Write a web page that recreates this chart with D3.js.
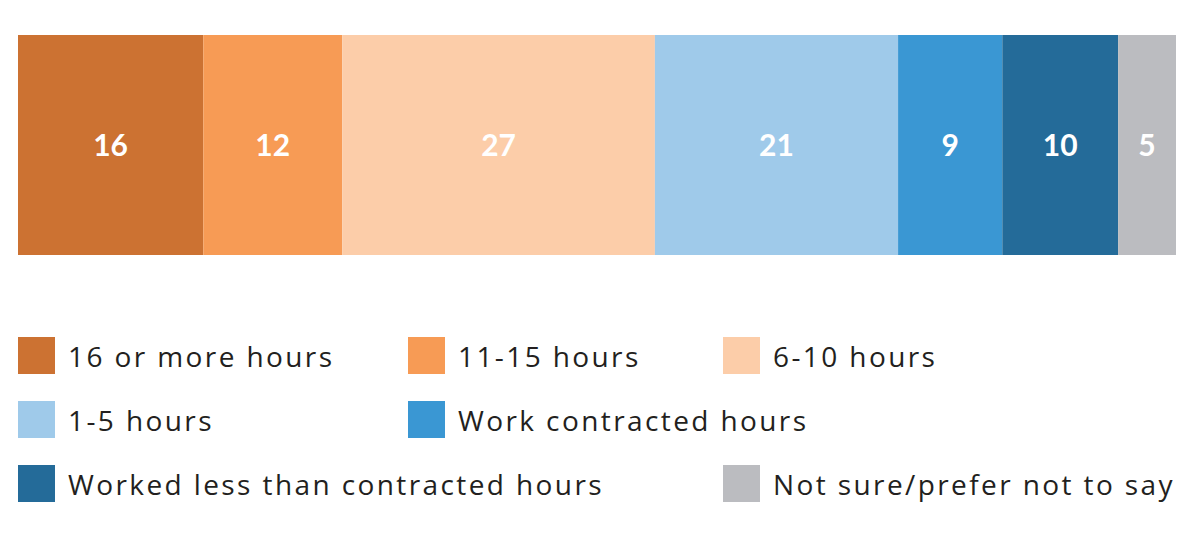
<!DOCTYPE html>
<html>
<head>
<meta charset="utf-8">
<script src="https://cdn.jsdelivr.net/npm/d3@7"></script>
<style>
  html, body { margin: 0; padding: 0; background: #fff; }
  svg { display: block; }
</style>
</head>
<body>
<svg id="chart" width="1192" height="534"></svg>
<script>
const categories = ["16 or more hours", "11-15 hours", "6-10 hours", "1-5 hours", "Work contracted hours", "Worked less than contracted hours", "Not sure/prefer not to say"];
const values = [16, 12, 27, 21, 9, 10, 5];
const colors = ["#CC7232", "#F79B55", "#FCCDA9", "#9FCAEA", "#3A97D3", "#246B99", "#BBBCC0"];

const svg = d3.select("#chart");
const total = d3.sum(values);
const x = d3.scaleLinear().domain([0, total]).range([18, 1176]);
const cum = values.map((v, i) => d3.sum(values.slice(0, i)));

const barTop = 35, barH = 220;
const g = svg.append("g");
g.selectAll("rect.seg").data(values).enter().append("rect")
  .attr("class", "seg")
  .attr("x", (d, i) => x(cum[i]))
  .attr("y", barTop)
  .attr("width", (d, i) => x(cum[i] + d) - x(cum[i]))
  .attr("height", barH)
  .attr("fill", (d, i) => colors[i]);

g.selectAll("text.val").data(values).enter().append("text")
  .attr("class", "val")
  .attr("x", (d, i) => (x(cum[i]) + x(cum[i] + d)) / 2)
  .attr("y", 156)
  .attr("text-anchor", "middle")
  .attr("fill", "#fff")
  .attr("font-family", "Lato, sans-serif")
  .attr("font-weight", "bold")
  .attr("font-size", 30)
  .text(d => d);

// legend
const legPos = [
  [18, 337], [408, 337], [723, 337],
  [18, 401], [408, 401],
  [18, 465], [723, 465]
];
const leg = svg.append("g").selectAll("g").data(categories).enter().append("g")
  .attr("transform", (d, i) => `translate(${legPos[i][0]},${legPos[i][1]})`);
leg.append("rect").attr("width", 37).attr("height", 37).attr("fill", (d, i) => colors[i]);
leg.append("text")
  .attr("x", 50)
  .attr("y", 30)
  .attr("fill", "#231f20")
  .attr("font-family", "'Open Sans', sans-serif")
  .attr("font-size", 28)
  .attr("letter-spacing", 2.4)
  .text(d => d);
</script>
</body>
</html>
